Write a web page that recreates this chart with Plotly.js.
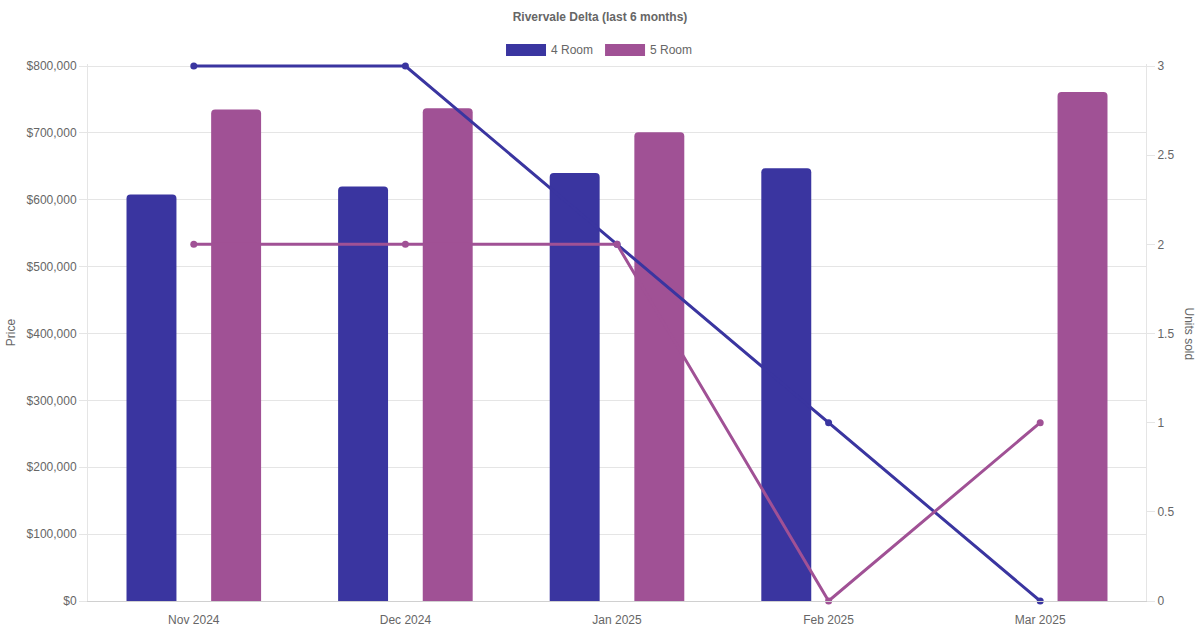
<!DOCTYPE html>
<html>
<head>
<meta charset="utf-8">
<script src="https://cdn.plot.ly/plotly-3.0.1.min.js"></script>
<style>
  html, body { margin: 0; padding: 0; background: #fff; }
  #chart { width: 1200px; height: 630px; }
</style>
</head>
<body>
<div id="chart"></div>
<script>
var months = ['Nov 2024', 'Dec 2024', 'Jan 2025', 'Feb 2025', 'Mar 2025'];
// median price per month (null = no sale)
var price4 = [608000, 620000, 640000, 647000, null];
var price5 = [735000, 737000, 701000, null, 761000];
// units sold per month
var units4 = [3, 3, 2, 1, 0];
var units5 = [2, 2, 2, 0, 1];

var col4 = '#3a35a0';
var col5 = '#a05195';
var txt = '#666';
var grid = '#e5e5e5';

// plot area: 800k / 3 units sit at y=66px, 0 at y=601px;
// the axes reach 2px higher so the top line is not clipped
var padTop = 2;
var plotH = 535 + padTop;
var stretch = plotH / 535;

var bar4 = {
  x: months, y: price4, name: '4 Room', type: 'bar',
  marker: { color: col4, cornerradius: 4 },
  showlegend: false, hoverinfo: 'x+y+name'
};
var bar5 = {
  x: months, y: price5, name: '5 Room', type: 'bar',
  marker: { color: col5, cornerradius: 4 },
  showlegend: false, hoverinfo: 'x+y+name'
};
var line4 = {
  x: months, y: units4, name: '4 Room', type: 'scatter', mode: 'lines+markers',
  yaxis: 'y2', line: { color: col4, width: 3 }, cliponaxis: false,
  marker: { color: col4, size: 7 }, showlegend: false
};
var line5 = {
  x: months, y: units5, name: '5 Room', type: 'scatter', mode: 'lines+markers',
  yaxis: 'y2', line: { color: col5, width: 3 }, cliponaxis: false,
  marker: { color: col5, size: 7 }, showlegend: false
};

var data = [bar4, bar5, line4, line5];

// legend drawn by hand, Chart.js style (wide boxes)
var legY = (601 - 50) / plotH;
var legH = 6 / plotH;
var legend = [
  { name: '4 Room', color: col4, x0: 0.3951, x1: 0.4329, tx: 0.4357 },
  { name: '5 Room', color: col5, x0: 0.4887, x1: 0.5265, tx: 0.5293 }
];
var shapes = [];
var annotations = [];
legend.forEach(function(l){
  shapes.push({
    type: 'rect', xref: 'paper', yref: 'paper',
    x0: l.x0, x1: l.x1, y0: legY - legH, y1: legY + legH,
    fillcolor: l.color, line: { width: 0 }
  });
  annotations.push({
    xref: 'paper', yref: 'paper', x: l.tx, y: legY,
    xanchor: 'left', yanchor: 'middle', showarrow: false,
    text: l.name, font: { size: 12, color: txt }
  });
});
annotations.push({
  xref: 'paper', yref: 'paper', x: (1188 - 88) / 1058, y: 267.5 / plotH,
  xanchor: 'center', yanchor: 'middle', showarrow: false,
  text: 'Units sold', textangle: 90, font: { size: 12, color: txt }
});

var layout = {
  width: 1200,
  height: 630,
  margin: { l: 88, r: 54, t: 66 - padTop, b: 29, pad: 0 },
  paper_bgcolor: '#fff',
  plot_bgcolor: '#fff',
  font: { family: 'Liberation Sans, Arial, sans-serif', size: 12, color: txt },
  title: {
    text: '<b>Rivervale Delta (last 6 months)</b>',
    font: { size: 12, color: txt },
    x: 0.5, xanchor: 'center', xref: 'container',
    y: (630 - 17) / 630, yanchor: 'middle', yref: 'container'
  },
  showlegend: false,
  barmode: 'group',
  bargap: 0.2,
  bargroupgap: 0.41,
  xaxis: {
    type: 'category',
    range: [-0.5, 4.5],
    showgrid: false,
    showline: true, linecolor: '#d0d0d0', linewidth: 1,
    ticks: '', ticklabelstandoff: 8,
    zeroline: false, fixedrange: true
  },
  yaxis: {
    range: [0, 800000 * stretch],
    tick0: 0, dtick: 100000,
    tickprefix: '$', tickformat: ',d',
    showgrid: true, gridcolor: grid, gridwidth: 1,
    showline: true, linecolor: grid,
    ticks: 'outside', ticklen: 8, tickcolor: grid,
    zeroline: false,
    title: { text: 'Price', standoff: 8, font: { size: 12, color: txt } }
  },
  yaxis2: {
    overlaying: 'y', side: 'right',
    range: [0, 3 * stretch], tick0: 0, dtick: 0.5,
    showgrid: false,
    showline: true, linecolor: grid,
    ticks: 'outside', ticklen: 8, tickcolor: grid,
    zeroline: false
  },
  shapes: shapes,
  annotations: annotations
};

Plotly.newPlot('chart', data, layout, { displayModeBar: false, staticPlot: true });
</script>
</body>
</html>
